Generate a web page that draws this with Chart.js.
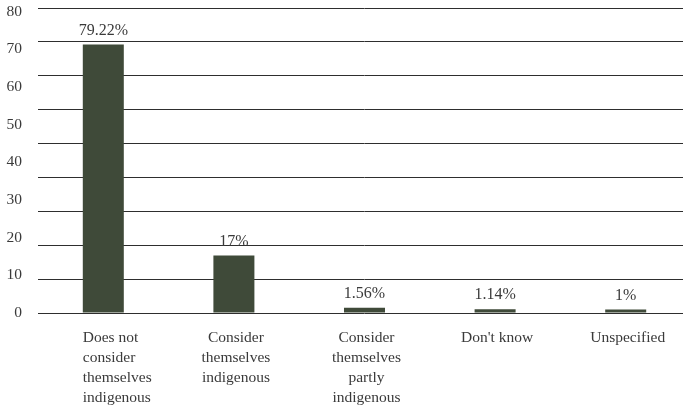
<!DOCTYPE html>
<html>
<head>
<meta charset="utf-8">
<script src="https://cdn.jsdelivr.net/npm/chart.js@4"></script>
<style>
  html, body { margin: 0; padding: 0; overflow: hidden; background: #ffffff; width: 683px; height: 407px; }
  canvas { display: block; }
</style>
</head>
<body>
<canvas id="chart" width="700" height="407"></canvas>
<script>
// Survey responses on indigenous self-identification
const categories = [
  ["Does not", "consider", "themselves", "indigenous"],
  ["Consider", "themselves", "indigenous"],
  ["Consider", "themselves", "partly", "indigenous"],
  ["Don't know"],
  ["Unspecified"]
];
const shares = [79.22, 17, 1.56, 1.14, 1];
const axisTickValues = [0, 10, 20, 30, 40, 50, 60, 70, 80];

const FONT = '"Liberation Serif", "Times New Roman", serif';
const TEXT_COLOR = '#3a3a3a';
const BAR_COLOR = '#3f4a39';

// Value labels above the bars and multi-line category names under the axis
const annotate = {
  id: 'annotate',
  afterDatasetsDraw(chart) {
    const ctx = chart.ctx;
    const meta = chart.getDatasetMeta(0);
    const bottom = chart.chartArea.bottom;
    ctx.save();
    ctx.fillStyle = TEXT_COLOR;
    ctx.textBaseline = 'middle';

    ctx.font = '16px ' + FONT;
    ctx.textAlign = 'center';
    meta.data.forEach((bar, i) => {
      ctx.fillText(shares[i] + '%', bar.x, bar.y - 14);
    });

    ctx.font = '15.5px ' + FONT;
    meta.data.forEach((bar, i) => {
      const leftAligned = i === 0;
      ctx.textAlign = leftAligned ? 'left' : 'center';
      const x = leftAligned ? bar.x - bar.width / 2 : bar.x + 2;
      categories[i].forEach((line, k) => {
        ctx.fillText(line, x, bottom + 25 + k * 20);
      });
    });
    ctx.restore();
  }
};

new Chart(document.getElementById('chart'), {
  type: 'bar',
  data: {
    labels: categories,
    datasets: [{
      data: shares,
      backgroundColor: BAR_COLOR,
      borderWidth: 0,
      barPercentage: 0.314,
      categoryPercentage: 1,
      yAxisID: 'y'
    }]
  },
  options: {
    responsive: false,
    animation: false,
    devicePixelRatio: 1,
    layout: { padding: { left: 0, right: 9, top: 8, bottom: 0 } },
    plugins: {
      legend: { display: false },
      tooltip: { enabled: false }
    },
    scales: {
      x: {
        grid: { display: false },
        border: { display: false },
        ticks: { display: false },
        afterFit(scale) {
          scale.height = 94;
          scale.paddingLeft = 0;
          scale.paddingRight = 0;
        }
      },
      y: {
        position: 'left',
        min: 0,
        max: 90,
        grid: { color: '#2e2e2e', lineWidth: 1, drawTicks: false },
        border: { display: false },
        ticks: { display: false, stepSize: 10 },
        afterFit(scale) {
          scale.width = 0;
          scale.paddingTop = 0;
          scale.paddingBottom = 0;
        }
      },
      yLabels: {
        position: 'left',
        min: 0,
        max: 81,
        grid: { display: false, drawTicks: false },
        border: { display: false },
        ticks: {
          padding: 16,
          color: TEXT_COLOR,
          font: { family: FONT, size: 15.5 }
        },
        afterBuildTicks(scale) {
          scale.ticks = axisTickValues.map(v => ({ value: v }));
        },
        afterFit(scale) {
          scale.width = 38;
          scale.paddingTop = 0;
          scale.paddingBottom = 0;
        }
      }
    }
  },
  plugins: [annotate]
});
</script>
</body>
</html>
